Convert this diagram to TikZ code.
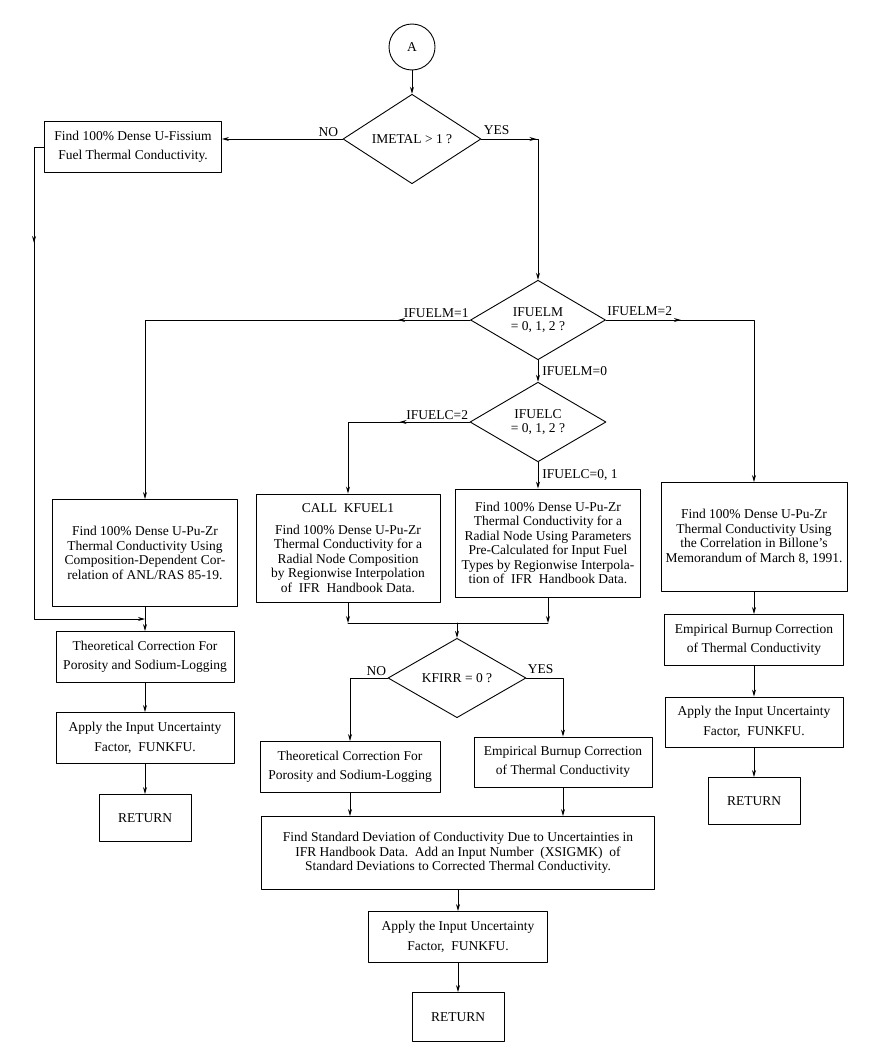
\documentclass[tikz,border=0pt]{standalone}
\usepackage{fontspec}
\setmainfont{Liberation Serif}
\usetikzlibrary{shapes.geometric,arrows.meta,decorations.markings}
\begin{document}
\begin{tikzpicture}[x=1pt, y=-1pt, line cap=round, line join=round, line width=0.9pt, >={Stealth[length=7pt,width=4pt]}, font=\fontsize{13.5}{14.5}\selectfont, box/.style={draw, rectangle, align=center, inner sep=0pt}, twoline/.style={font=\fontsize{13.5}{19.5}\selectfont}, dec/.style={draw, diamond, align=center, inner sep=0pt}, lbl/.style={inner sep=1pt}, midarr/.style={postaction={decorate}, decoration={markings, mark=at position #1 with {\arrow{>}}}}]
			\useasboundingbox (0,0) rectangle (878,1060);
			
			\node[draw, circle, minimum size=46pt, inner sep=0pt] (a) at (412,47) {A};
			\node[dec, minimum width=138pt, minimum height=68pt] (d1) at (412,139) {IMETAL > 1 ?};
			\node[box, twoline, minimum width=177pt, minimum height=51pt] (fis) at (133,147) {Find 100\% Dense U-Fissium\\Fuel Thermal Conductivity.};
			\node[dec, minimum width=135pt, minimum height=66pt] (d2) at (538,320) {IFUELM\\= 0, 1, 2 ?};
			\node[dec, minimum width=136pt, minimum height=70pt] (d3) at (538,422) {IFUELC\\= 0, 1, 2 ?};
			
			\node[box, minimum width=185pt, minimum height=107pt] (anl) at (145,553) {Find 100\% Dense U-Pu-Zr\\Thermal Conductivity Using\\Composition-Dependent Cor-\\relation of ANL/RAS 85-19.};
			\node[box, minimum width=184pt, minimum height=108pt] (kf) at (348,548) {CALL\ \ KFUEL1\\[7pt]Find 100\% Dense U-Pu-Zr\\Thermal Conductivity for a\\Radial Node Composition\\by Regionwise Interpolation\\of\ \ IFR\ \ Handbook Data.};
			\node[box, minimum width=185pt, minimum height=108pt] (par) at (548,543) {Find 100\% Dense U-Pu-Zr\\Thermal Conductivity for a\\Radial Node Using Parameters\\Pre-Calculated for Input Fuel\\Types by Regionwise Interpola-\\tion of\ \ IFR\ \ Handbook Data.};
			\node[box, minimum width=186pt, minimum height=109pt] (bil) at (754,537) {Find 100\% Dense U-Pu-Zr\\Thermal Conductivity Using\\the Correlation in Billone's\\Memorandum of March 8, 1991.};
			
			\node[box, twoline, minimum width=178pt, minimum height=51pt] (theoL) at (145,657) {Theoretical Correction For\\Porosity and Sodium-Logging};
			\node[box, twoline, minimum width=178pt, minimum height=51pt] (appL) at (145,738) {Apply the Input Uncertainty\\Factor,\ \ FUNKFU.};
			\node[box, minimum width=92pt, minimum height=47pt] (retL) at (145,818) {RETURN};
			
			\coordinate (mg) at (457,623);
			\node[dec, minimum width=138pt, minimum height=70pt] (d4) at (457,678) {KFIRR = 0 ?};
			\node[box, twoline, minimum width=180pt, minimum height=51pt] (theoM) at (350,767) {Theoretical Correction For\\Porosity and Sodium-Logging};
			\node[box, twoline, minimum width=178pt, minimum height=50pt] (empM) at (563,762) {Empirical Burnup Correction\\of Thermal Conductivity};
			\node[box, minimum width=393pt, minimum height=73pt] (big) at (458,853) {Find Standard Deviation of Conductivity Due to Uncertainties in\\IFR Handbook Data.\ \ Add an Input Number\ \ (XSIGMK)\ \ of\\Standard Deviations to Corrected Thermal Conductivity.};
			\node[box, twoline, minimum width=179pt, minimum height=51pt] (appM) at (458,937) {Apply the Input Uncertainty\\Factor,\ \ FUNKFU.};
			\node[box, minimum width=92pt, minimum height=49pt] (retM) at (458,1017) {RETURN};
			
			\node[box, twoline, minimum width=179pt, minimum height=51pt] (empR) at (754,640) {Empirical Burnup Correction\\of Thermal Conductivity};
			\node[box, twoline, minimum width=178pt, minimum height=50pt] (appR) at (754,722) {Apply the Input Uncertainty\\Factor,\ \ FUNKFU.};
			\node[box, minimum width=92pt, minimum height=47pt] (retR) at (754,801) {RETURN};
			
			\path (anl.south) -- coordinate[pos=.5] (jl) (theoL.north);
			
			\node[lbl, anchor=south east] (ln1) at ([xshift=-3pt,yshift=1pt]d1.west) {NO};
			\node[lbl, anchor=south west] (ly1) at ([xshift=1pt,yshift=3pt]d1.east) {YES};
			\node[lbl, anchor=south east] (lm1) at ([yshift=1pt]d2.west) {IFUELM=1};
			\node[lbl, anchor=south west] (lm2) at ([yshift=3pt]d2.east) {IFUELM=2};
			\node[lbl, anchor=south east] (lc2) at ([yshift=1pt]d3.west) {IFUELC=2};
			\node[lbl, anchor=south east] (ln4) at ([yshift=1pt]d4.west) {NO};
			\node[lbl, anchor=south west] (ly4) at ([yshift=3pt]d4.east) {YES};
			
			\draw[->] (a) -- (d1);
			\draw[->] (d1.west) -- (d1.west -| fis.east);
			\draw[->, midarr=55pt] (d1.east) -| (d2.north);
			\draw[->, midarr=106pt] (fis.west) -- ++(-10,0) |- (jl);
			
			\draw[->, midarr=72pt] (d2.west) -| (anl.north);
			\draw[->, midarr=75pt] (d2.east) -| (bil.north);
			\draw[->] (d2.south) -- node[lbl, right, xshift=3pt] (lm0) {IFUELM=0} (d3.north);
			\draw[->, midarr=70pt] (d3.west) -| (kf.north);
			\draw[->] (d3.south) -- node[lbl, right, xshift=3pt] (lc0) {IFUELC=0, 1} (d3.south |- par.north);
			
			\draw[->] (anl) -- (theoL);
			\draw[->] (theoL) -- (appL);
			\draw[->] (appL) -- (retL);
			
			\draw[->] (kf.south) -- (kf.south |- mg);
			\draw[->] (par.south) -- (par.south |- mg);
			\draw (kf.south |- mg) -- (par.south |- mg);
			\draw[->] (mg) -- (d4.north);
			\draw[->] (d4.west) -| (theoM.north);
			\draw[->] (d4.east) -| (empM.north);
			\draw[->] (theoM.south) -- (theoM.south |- big.north);
			\draw[->] (empM.south) -- (empM.south |- big.north);
			\draw[->] (big) -- (appM);
			\draw[->] (appM) -- (retM);
			
			\draw[->] (bil) -- (empR);
			\draw[->] (empR) -- (appR);
			\draw[->] (appR) -- (retR);
			
		\end{tikzpicture}
\end{document}
